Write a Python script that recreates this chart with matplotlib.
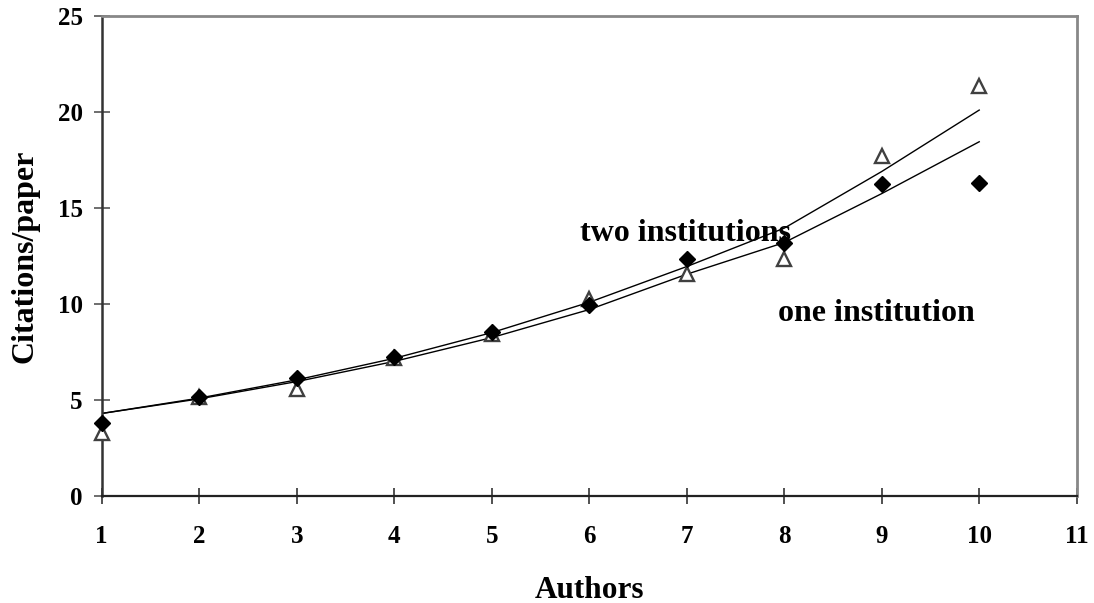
import matplotlib
matplotlib.use('Agg')
import matplotlib.pyplot as plt

# values
authors = [1, 2, 3, 4, 5, 6, 7, 8, 9, 10]
one_inst = [3.82, 5.14, 6.13, 7.25, 8.55, 9.95, 12.35, 13.16, 16.23, 16.32]
two_inst = [3.30, 5.15, 5.56, 7.2, 8.45, 10.28, 11.55, 12.34, 17.72, 21.35]
# trend lines as drawn (read at each integer x)
trend_one = [4.30, 5.06, 5.96, 7.01, 8.25, 9.71, 11.55, 13.2, 15.75, 18.45]
trend_two = [4.30, 5.10, 6.05, 7.17, 8.51, 10.09, 11.95, 13.95, 16.9, 20.1]

xticks = list(range(1, 12))
yticks = [0, 5, 10, 15, 20, 25]

plt.rcParams['font.family'] = ['Liberation Serif', 'DejaVu Serif']
plt.rcParams['font.weight'] = 'bold'

fig = plt.figure(figsize=(10.94, 6.03), dpi=100)
ax = fig.add_axes([0.093, 0.1774, 0.8912, 0.7961])

ax.plot(authors, trend_one, color='black', lw=1.0, zorder=2)
ax.plot(authors, trend_two, color='black', lw=1.0, zorder=2)
ax.plot(authors, two_inst, linestyle='none', marker='^', ms=10.5, mfc='white',
        mec='#404040', mew=1.7, zorder=3, clip_on=False)
ax.plot(authors, one_inst, linestyle='none', marker='D', ms=8.5, mfc='black',
        mec='black', zorder=4, clip_on=False)

ax.text(5.906, 13.3, 'two institutions', fontsize=23, fontweight='bold', zorder=1)
ax.text(7.94, 9.12, 'one institution', fontsize=23, fontweight='bold', zorder=1)

ax.set_xlim(1, 11)
ax.set_ylim(0, 25)
ax.set_xticks(xticks)
ax.set_yticks(yticks)
ax.tick_params(axis='x', direction='inout', length=11.5, width=1.2, pad=15,
               labelsize=18, color='#333333')
ax.tick_params(axis='y', direction='inout', length=11.5, width=1.2, pad=8,
               labelsize=18, color='#555555')
for lab in ax.get_xticklabels() + ax.get_yticklabels():
    lab.set_fontweight('bold')

ax.set_xlabel('Authors', fontsize=22.5, fontweight='bold', labelpad=20)
ax.set_ylabel('Citations/paper', fontsize=23, fontweight='bold', labelpad=13)

ax.spines['left'].set_color('#333333')
ax.spines['left'].set_linewidth(1.8)
ax.spines['bottom'].set_color('#222222')
ax.spines['bottom'].set_linewidth(1.6)
ax.spines['top'].set_color('#888888')
ax.spines['top'].set_linewidth(2)
ax.spines['right'].set_color('#888888')
ax.spines['right'].set_linewidth(2)

fig.savefig('out.png', dpi=100)
